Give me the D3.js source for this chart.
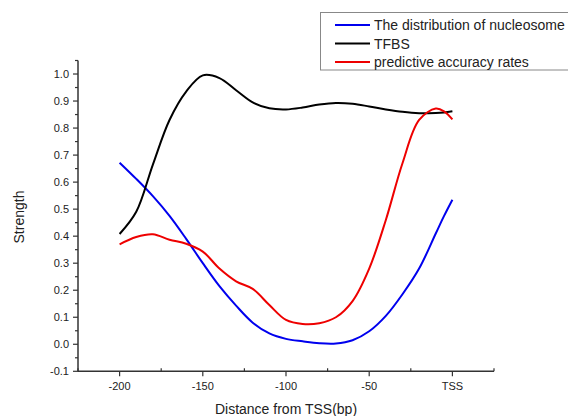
<!DOCTYPE html>
<html>
<head>
<meta charset="utf-8">
<script src="https://cdn.jsdelivr.net/npm/d3@7"></script>
<style>
  body { margin: 0; background: #fff; }
  text { font-family: "Liberation Sans", Arial, sans-serif; fill: #222; }
</style>
</head>
<body>
<div id="chart"></div>
<script>
// distance from TSS (bp), TSS = 0
const distances = [-200, -190, -180, -170, -160, -150, -140, -130, -120, -110, -100,
                   -90, -80, -70, -60, -50, -40, -30, -20, -10, -5, 0];
const nucleosome = [0.672, 0.612, 0.548, 0.475, 0.39, 0.30, 0.215, 0.143, 0.08, 0.04, 0.02,
                    0.011, 0.004, 0.003, 0.015, 0.048, 0.105, 0.185, 0.28, 0.41, 0.475, 0.535];
const tfbs = [0.408, 0.49, 0.665, 0.83, 0.935, 0.995, 0.985, 0.94, 0.895, 0.873, 0.869,
              0.876, 0.887, 0.893, 0.89, 0.88, 0.869, 0.86, 0.855, 0.856, 0.858, 0.862];
const accuracy = [0.37, 0.397, 0.407, 0.387, 0.372, 0.343, 0.28, 0.233, 0.205, 0.145, 0.09,
                  0.075, 0.078, 0.1, 0.16, 0.28, 0.46, 0.67, 0.83, 0.872, 0.862, 0.832];

const seriesNames = ['The distribution of nucleosome', 'TFBS', 'predictive accuracy rates'];
const seriesColors = ['#0000ee', '#000000', '#ee0000'];
const xTicks = [-200, -150, -100, -50, 0];
const yTicks = [-0.1, 0.0, 0.1, 0.2, 0.3, 0.4, 0.5, 0.6, 0.7, 0.8, 0.9, 1.0];

const width = 568, height = 416;
const svg = d3.select('#chart').append('svg')
    .attr('width', width)
    .attr('height', height);

const x = d3.scaleLinear().domain([-225, 25]).range([78, 494]);
const y = d3.scaleLinear().domain([-0.1, 1.05]).range([371.3, 60.5]);

// x axis
const xAxis = svg.append('g').attr('transform', `translate(0,${y(-0.1)})`);
xAxis.append('line')
    .attr('x1', x(-225)).attr('x2', x(25))
    .attr('stroke', '#333').attr('stroke-width', 1.5);
xAxis.selectAll('.minor')
    .data([-225, -175, -125, -75, -25, 25])
    .enter().append('line')
    .attr('x1', d => x(d)).attr('x2', d => x(d))
    .attr('y1', 0).attr('y2', -3)
    .attr('stroke', '#333').attr('stroke-width', 1.2);
xAxis.selectAll('.major')
    .data(xTicks)
    .enter().append('line')
    .attr('x1', d => x(d)).attr('x2', d => x(d))
    .attr('y1', 0).attr('y2', 5)
    .attr('stroke', '#333').attr('stroke-width', 1.2);
xAxis.selectAll('.lbl')
    .data(xTicks)
    .enter().append('text')
    .attr('x', d => x(d))
    .attr('y', 19)
    .attr('text-anchor', 'middle')
    .attr('font-size', 11)
    .text(d => d === 0 ? 'TSS' : d);

// y axis
const yAxis = svg.append('g').attr('transform', `translate(${x(-225)},0)`);
yAxis.append('line')
    .attr('y1', y(-0.1)).attr('y2', y(1.05))
    .attr('stroke', '#333').attr('stroke-width', 1.5);
yAxis.selectAll('.minor')
    .data(d3.range(-0.05, 1.06, 0.1))
    .enter().append('line')
    .attr('y1', d => y(d)).attr('y2', d => y(d))
    .attr('x1', 0).attr('x2', -3)
    .attr('stroke', '#333').attr('stroke-width', 1.2);
yAxis.selectAll('.major')
    .data(yTicks)
    .enter().append('line')
    .attr('y1', d => y(d)).attr('y2', d => y(d))
    .attr('x1', 0).attr('x2', -5)
    .attr('stroke', '#333').attr('stroke-width', 1.2);
yAxis.selectAll('.lbl')
    .data(yTicks)
    .enter().append('text')
    .attr('x', -9)
    .attr('y', d => y(d) + 4)
    .attr('text-anchor', 'end')
    .attr('font-size', 11)
    .text(d => d.toFixed(1));

// axis titles
svg.append('text')
    .attr('x', 286).attr('y', 414)
    .attr('text-anchor', 'middle')
    .attr('font-size', 14)
    .text('Distance from TSS(bp)');
svg.append('text')
    .attr('transform', 'translate(24,217) rotate(-90)')
    .attr('text-anchor', 'middle')
    .attr('font-size', 14)
    .text('Strength');

// curves
const line = d3.line()
    .x((d, i) => x(distances[i]))
    .y(d => y(d))
    .curve(d3.curveCatmullRom.alpha(0.5));

[nucleosome, tfbs, accuracy].forEach((vals, i) => {
  svg.append('path')
      .datum(vals)
      .attr('d', line)
      .attr('fill', 'none')
      .attr('stroke', seriesColors[i])
      .attr('stroke-width', 2);
});

// legend
const legend = svg.append('g');
legend.append('rect')
    .attr('x', 320.5).attr('y', 12.5)
    .attr('width', 260).attr('height', 57.5)
    .attr('fill', '#fff')
    .attr('stroke', '#888').attr('stroke-width', 1);
seriesNames.forEach((name, i) => {
  const ly = 25 + i * 18.5;
  legend.append('line')
      .attr('x1', 335).attr('x2', 370)
      .attr('y1', ly).attr('y2', ly)
      .attr('stroke', seriesColors[i]).attr('stroke-width', 2);
  legend.append('text')
      .attr('x', 374).attr('y', ly + 5)
      .attr('font-size', 14)
      .text(name);
});
</script>
</body>
</html>
